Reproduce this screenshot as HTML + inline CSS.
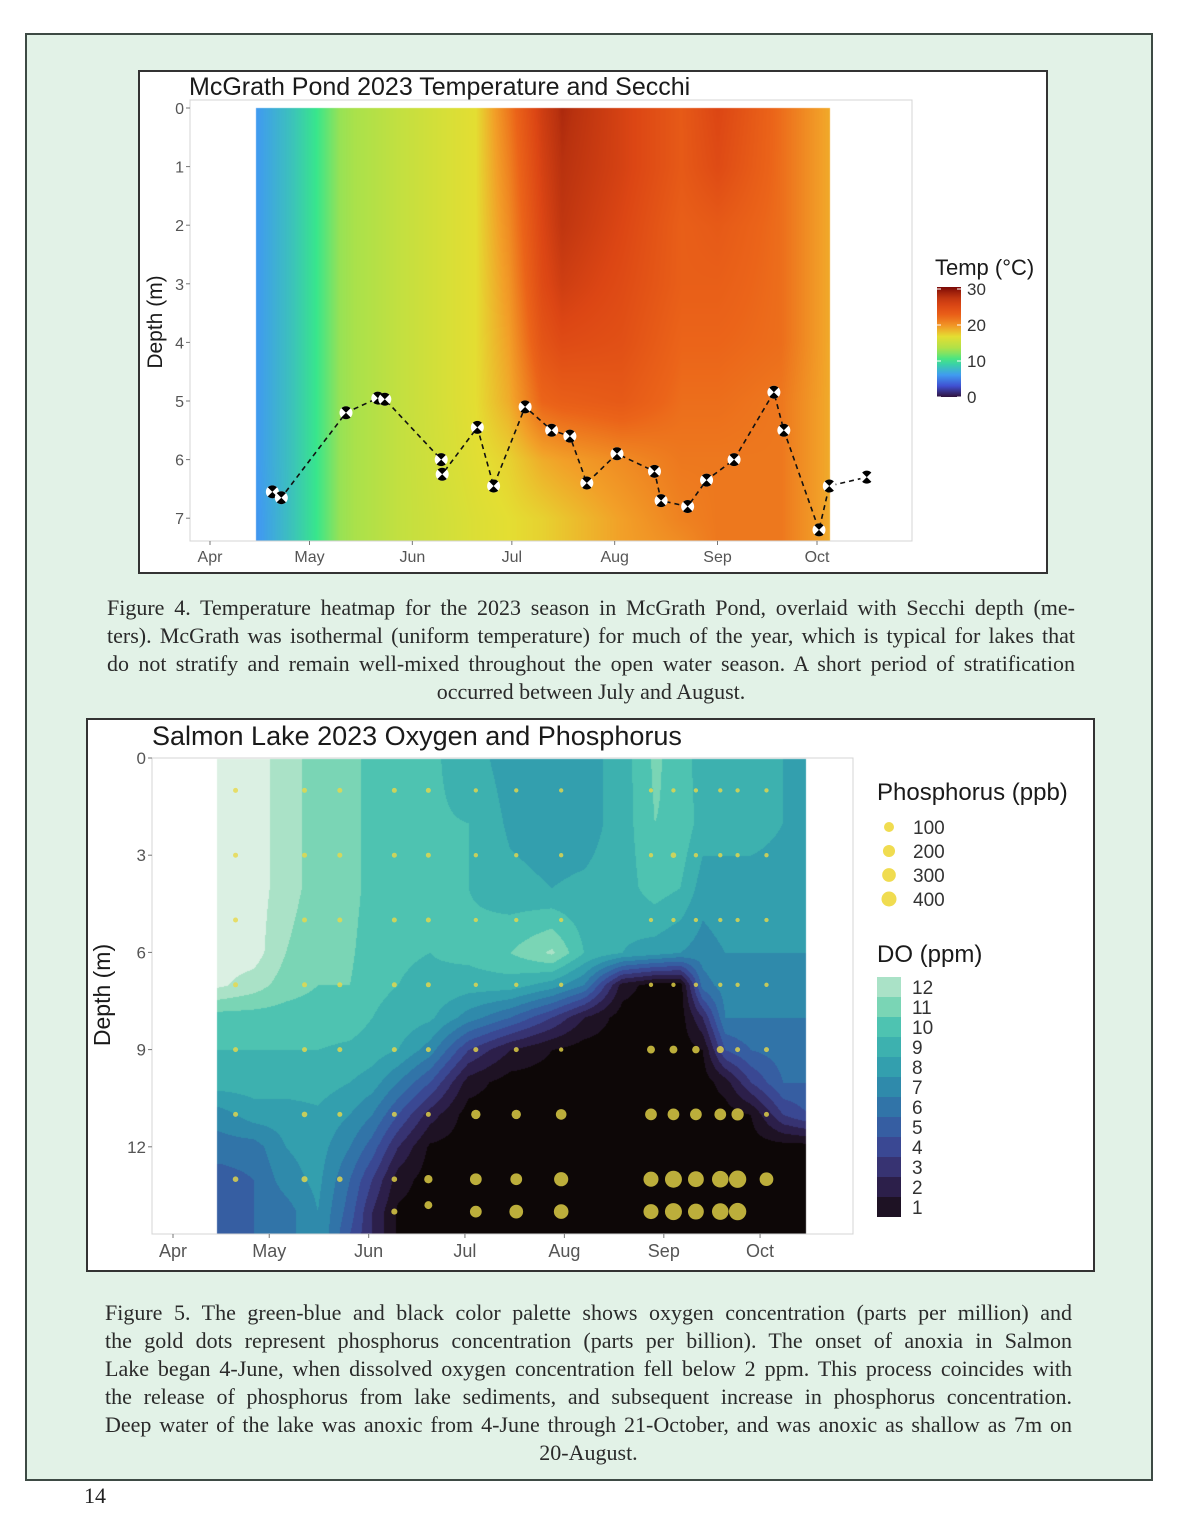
<!DOCTYPE html>
<html><head><meta charset="utf-8"><style>
body{margin:0;background:#fff;width:1185px;height:1536px;position:relative;overflow:hidden;font-family:"Liberation Sans",sans-serif}
.abs{position:absolute}
.cap{position:absolute;font-family:"Liberation Serif",serif;font-size:22px;color:#2a2a2a;line-height:28px}
.cap div{text-align:justify;text-align-last:justify;white-space:nowrap}
.cap div.c{text-align:center;text-align-last:center}
</style></head><body>
<div class="abs" style="left:25px;top:33px;width:1124px;height:1444px;background:#e2f2e7;border:2px solid #3d4a44"></div>
<div class="abs" style="left:138px;top:70px;width:906px;height:500px;background:#fff;border:2px solid #333"></div>
<div class="abs" style="left:86px;top:718px;width:1005px;height:550px;background:#fff;border:2px solid #333"></div>
<canvas id="tc" class="abs" width="1185" height="1536" style="left:0;top:0"></canvas>
<svg id="s" class="abs" width="1185" height="1536" style="left:0;top:0"></svg>
<div class="cap" style="left:107px;top:594px;width:968px">
<div>Figure 4. Temperature heatmap for the 2023 season in McGrath Pond, overlaid with Secchi depth (me-</div>
<div>ters). McGrath was isothermal (uniform temperature) for much of the year, which is typical for lakes that</div>
<div>do not stratify and remain well-mixed throughout the open water season. A short period of stratification</div>
<div class="c">occurred between July and August.</div>
</div>
<div class="cap" style="left:105px;top:1299px;width:967px">
<div>Figure 5. The green-blue and black color palette shows oxygen concentration (parts per million) and</div>
<div>the gold dots represent phosphorus concentration (parts per billion). The onset of anoxia in Salmon</div>
<div>Lake began 4-June, when dissolved oxygen concentration fell below 2 ppm. This process coincides with</div>
<div>the release of phosphorus from lake sediments, and subsequent increase in phosphorus concentration.</div>
<div>Deep water of the lake was anoxic from 4-June through 21-October, and was anoxic as shallow as 7m on</div>
<div class="c">20-August.</div>
</div>
<div class="abs" style="left:84px;top:1483px;font-family:'Liberation Serif',serif;font-size:22px;color:#222">14</div>
<script>
// ---------- Figure 4 data ----------
const months=["Apr","May","Jun","Jul","Aug","Sep","Oct"];
const monthDays=[0,30,61,91,122,153,183];
const tDepthTicks=[0,1,2,3,4,5,6,7];
const tDates=[14,24,32,39,57,80,90,100,106,124,142,153,172,187];
const tDepths=[0,1,2,3,4,5,6,7,7.4];
const tTemp=[
[6,6,6,6,6,6,6,5.8,5.8],
[8,8,8,8,8,8,8,8,8],
[10,10,10,10,10,10,10,10,10],
[12.5,12.5,12.5,12.5,12.5,12.5,12.5,12.5,12.5],
[14.5,14.5,14.5,14.5,14.5,14.5,14.5,14.5,14.5],
[16.5,16.5,16.5,16.5,16.5,16.5,16.3,16,16],
[21,20.5,20,19.5,19,18.5,17,16.5,16.5],
[26,25.5,25,24.5,23.5,22,18.5,17,17],
[28,27.5,27,26,24.5,22.5,19,17.5,17.5],
[25.5,25.5,25,24.5,24,23,20,19,19],
[23,23,22.5,22.5,22,21.5,21,20.5,20],
[25,24.5,23,22.5,22,21.5,21,21,21],
[21.5,21.5,21.5,21.5,21.5,21,21,21,21],
[18.5,18.5,18.5,18.5,18.5,18.5,18.5,18.5,18.5]];
const secchiDays=[18.8,21.5,41,50.6,52.7,69.7,70,80.6,85.5,95,103,108.5,113.6,122.7,134,136,144,149.7,158,170,173,183.6,186.7,198];
const secchiDepth=[6.55,6.65,5.2,4.95,4.97,6.0,6.25,5.45,6.45,5.1,5.5,5.6,6.4,5.9,6.2,6.7,6.8,6.35,6.0,4.85,5.5,7.2,6.45,6.3];
const tempLegend=[0,10,20,30];
// ---------- Figure 5 data ----------
const oDepthTicks=[0,3,6,9,12];
const oDates=[14,25,35,45,55,62,70,80,92,105,118,128,140,150,158,165,172,180,190,198];
const oDepths=[0,2,4,6,7,8,9,10,11,12,13,14,14.7];
const oDO=[
[13.5,13.5,13.5,13.5,13.2,10.5,10,9.5,7.5,6.5,5.5,5,5],
[13.5,13.5,13.5,13.5,12.5,10.5,10,9.5,8.5,6.5,6,6,6],
[12.5,12.5,12.5,12,11.5,10.5,10,9.5,8.5,8,7.5,6.5,6.5],
[11.5,11.5,11.5,11.2,11,10.5,10,9.5,8.8,8.5,8.3,8,8],
[11.5,11.5,11.5,11.2,11,10.5,9.8,9,8,7,6,5.5,5],
[10.5,10.5,10.5,10.3,10.2,10,9.5,8.5,7,5.5,4,3,3],
[10.3,10.2,10.2,10.1,10,9.7,9,7,5,3,1.5,0.8,0.8],
[10.2,10.1,10.1,10,9.8,9.2,7.5,5,2.5,0.8,0.5,0.5,0.5],
[9.5,10,10,10.3,9.5,7.5,4,1.5,0.5,0.5,0.5,0.5,0.5],
[8.5,8.8,9.3,11,9.5,6,2,0.5,0.5,0.5,0.5,0.5,0.5],
[8.5,8.5,9,12.2,8.5,4,1,0.5,0.5,0.5,0.5,0.5,0.5],
[8.5,8.5,9.2,10,7,2,0.5,0.5,0.5,0.5,0.5,0.5,0.5],
[9.5,9.5,9.5,9,1.5,0.5,0.5,0.5,0.5,0.5,0.5,0.5,0.5],
[11.2,11,10.5,8.5,0.5,0.5,0.5,0.5,0.5,0.5,0.5,0.5,0.5],
[10.5,10.8,10,8,0.5,0.5,0.5,0.5,0.5,0.5,0.5,0.5,0.5],
[9.5,9.5,8.5,7.5,6.5,3,1,0.5,0.5,0.5,0.5,0.5,0.5],
[9,9.2,8.8,8,7.5,7,5,1.5,0.5,0.5,0.5,0.5,0.5],
[10,9.5,8.5,8,7.5,7,6,4,1,0.5,0.5,0.5,0.5],
[9,9,8.5,8,7.5,7,6.5,6,4,0.5,0.5,0.5,0.5],
[8.5,8.5,8,8,7.5,7,6.5,6,5,0.5,0.5,0.5,0.5]];
const pDates=[19.5,41,52,69,79.6,94.4,107,121,149,156,163,170.6,176,185];
const pDepths=[1,3,5,7,9,11,13,14];
const pVals=[
[20,20,20,20,20,20,25,null],
[20,20,20,20,20,25,30,null],
[20,20,20,20,20,20,25,null],
[20,20,20,20,20,20,25,30],
[20,20,20,20,20,20,55,null],
[15,15,15,15,20,70,110,110],
[15,15,15,15,20,70,110,150],
[15,15,15,15,15,90,160,170],
[15,15,15,15,50,110,180,180],
[15,25,15,15,50,110,230,230],
[15,15,15,15,45,110,200,200],
[15,15,15,15,40,110,220,220],
[15,15,15,15,20,120,240,240],
[15,15,15,15,20,20,150,null]];
const pExtraDay=[79.6], pExtraDepth=[13.8], pExtraVal=[50];
const pLegend=[100,200,300,400];
const doLegend=[1,2,3,4,5,6,7,8,9,10,11,12];

const NS="http://www.w3.org/2000/svg";
const svg=document.getElementById('s');
function el(t,a,txt){const e=document.createElementNS(NS,t);for(const k in a)e.setAttribute(k,a[k]);if(txt!==undefined)e.textContent=txt;svg.appendChild(e);return e;}
function interp(dates,depths,M,d,z){
  let i=0;while(i<dates.length-2&&d>dates[i+1])i++;
  let j=0;while(j<depths.length-2&&z>depths[j+1])j++;
  let u=(d-dates[i])/(dates[i+1]-dates[i]);u=Math.max(0,Math.min(1,u));
  let v=(z-depths[j])/(depths[j+1]-depths[j]);v=Math.max(0,Math.min(1,v));
  return (1-u)*(1-v)*M[i][j]+u*(1-v)*M[i+1][j]+(1-u)*v*M[i][j+1]+u*v*M[i+1][j+1];
}
const tx=d=>210+d*3.317, ty=z=>108+z*58.6;
const ox=d=>173+d*3.208, oy=z=>758+z*32.4;
const tStops=[[0,[48,18,59]],[3,[64,80,210]],[6,[64,155,240]],[10,[56,230,140]],[13,[170,225,75]],[16.5,[228,222,50]],[19,[242,160,40]],[22,[235,100,25]],[25,[220,70,20]],[27.5,[185,50,15]],[30,[122,8,5]]];
function tColor(t){if(t<=tStops[0][0])return tStops[0][1];for(let k=0;k<tStops.length-1;k++){const a=tStops[k],b=tStops[k+1];if(t<=b[0]){const f=(t-a[0])/(b[0]-a[0]);return a[1].map((c,i)=>Math.round(c+f*(b[1][i]-c)));}}return tStops[tStops.length-1][1];}
const doCols=["#0d0707","#0d0707","#1e1224","#2c1f4a","#373372","#3a4893","#365ea2","#3174a8","#2f8aab","#339fae","#3db1af","#4ec3b1","#7ad5b5","#aae2c7","#dbf0e3"];
function doColor(v){return doCols[Math.max(0,Math.min(14,Math.floor(v)+1))];}
function hex(h){return [parseInt(h.substr(1,2),16),parseInt(h.substr(3,2),16),parseInt(h.substr(5,2),16)];}

const cv=document.getElementById('tc'),ctx=cv.getContext('2d');
(function(){
  const x0=256,x1=830,y0=108,y1=541;
  const img=ctx.createImageData(x1-x0,y1-y0);
  for(let y=y0;y<y1;y++)for(let x=x0;x<x1;x++){
    const d=(x-210)/3.317,z=(y-108)/58.6;
    const c=tColor(interp(tDates,tDepths,tTemp,d,z));
    const p=((y-y0)*(x1-x0)+(x-x0))*4;img.data[p]=c[0];img.data[p+1]=c[1];img.data[p+2]=c[2];img.data[p+3]=255;}
  ctx.putImageData(img,x0,y0);
  const X0=217,X1=806,Y0=759,Y1=1234;
  const im2=ctx.createImageData(X1-X0,Y1-Y0);
  for(let y=Y0;y<Y1;y++)for(let x=X0;x<X1;x++){
    const d=(x-173)/3.208,z=(y-758)/32.4;
    const c=hex(doColor(interp(oDates,oDepths,oDO,d,z)));
    const p=((y-Y0)*(X1-X0)+(x-X0))*4;im2.data[p]=c[0];im2.data[p+1]=c[1];im2.data[p+2]=c[2];im2.data[p+3]=255;}
  ctx.putImageData(im2,X0,Y0);
})();

let t=el('text',{x:189,y:95,'font-size':25,fill:'#1a1a1a'},'McGrath Pond 2023 Temperature and Secchi');

el('rect',{x:190,y:100,width:722,height:441,fill:'none',stroke:'#d4d4d4','stroke-width':1});
tDepthTicks.forEach(v=>{const y=ty(v);
  el('line',{x1:186,x2:190,y1:y,y2:y,stroke:'#777'});
  const l=el('text',{x:184,y:y+6,'font-size':16,fill:'#555','text-anchor':'end'},String(v));
  });
months.forEach((m,i)=>{const x=tx(monthDays[i]);
  el('line',{x1:x,x2:x,y1:541,y2:545,stroke:'#777'});
  const l=el('text',{x:x,y:562,'font-size':16,fill:'#555','text-anchor':'middle'},m);
  });
t=el('text',{x:0,y:0,'font-size':21,fill:'#1a1a1a','text-anchor':'middle',transform:'translate(162,322) rotate(-90)'},'Depth (m)');

let pts=secchiDays.map((d,i)=>tx(d)+','+ty(secchiDepth[i])).join(' ');
t=el('polyline',{points:pts,fill:'none',stroke:'#111','stroke-width':1.6,'stroke-dasharray':'5,4'});

secchiDays.forEach((d,i)=>{const cx=tx(d),cy=ty(secchiDepth[i]),r=6.5;
  const g=el('g',{transform:`translate(${cx},${cy}) rotate(45)`});
  
  const c1=document.createElementNS(NS,'circle');c1.setAttribute('r',r);c1.setAttribute('fill','#fff');g.appendChild(c1);
  const p1=document.createElementNS(NS,'path');p1.setAttribute('d',`M0,0 L${r},0 A${r},${r} 0 0 1 0,${r} Z M0,0 L${-r},0 A${r},${r} 0 0 1 0,${-r} Z`);p1.setAttribute('fill','#000');g.appendChild(p1);});
t=el('text',{x:935,y:275,'font-size':22,fill:'#1a1a1a'},'Temp (°C)');

const defs=el('defs',{});
const lg=document.createElementNS(NS,'linearGradient');lg.setAttribute('id','tg');lg.setAttribute('x1','0');lg.setAttribute('y1','1');lg.setAttribute('x2','0');lg.setAttribute('y2','0');defs.appendChild(lg);
for(let k=0;k<=30;k+=1.5){const s=document.createElementNS(NS,'stop');s.setAttribute('offset',k/30);s.setAttribute('stop-color','rgb('+tColor(k).join(',')+')');lg.appendChild(s);}
t=el('rect',{x:937,y:287,width:24,height:110,fill:'url(#tg)'});

tempLegend.forEach(v=>{const y=397-v/30*108;
  el('line',{x1:937,x2:941,y1:y,y2:y,stroke:'#fff'});el('line',{x1:957,x2:961,y1:y,y2:y,stroke:'#fff'});
  const l=el('text',{x:967,y:y+6,'font-size':17,fill:'#333'},String(v));
  });

t=el('text',{x:152,y:745,'font-size':27,fill:'#1a1a1a'},'Salmon Lake 2023 Oxygen and Phosphorus');

el('rect',{x:152,y:758,width:701,height:476,fill:'none',stroke:'#d4d4d4','stroke-width':1});
oDepthTicks.forEach(v=>{const y=oy(v);
  el('line',{x1:148,x2:152,y1:y,y2:y,stroke:'#777'});
  const l=el('text',{x:146,y:y+6,'font-size':17,fill:'#555','text-anchor':'end'},String(v));
  });
months.forEach((m,i)=>{const x=ox(monthDays[i]);
  el('line',{x1:x,x2:x,y1:1234,y2:1238,stroke:'#777'});
  const l=el('text',{x:x,y:1257,'font-size':18,fill:'#555','text-anchor':'middle'},m);
  });
t=el('text',{x:0,y:0,'font-size':23,fill:'#1a1a1a','text-anchor':'middle',transform:'translate(110,995) rotate(-90)'},'Depth (m)');

const pr=v=>Math.max(2,0.56*Math.sqrt(v));
pDates.forEach((d,i)=>pVals[i].forEach((v,j)=>{if(v===null)return;
  const c=el('circle',{cx:ox(d),cy:oy(pDepths[j]),r:pr(v),fill:'#e8d848','fill-opacity':0.8});
  }));
pExtraDay.forEach((d,i)=>{const c=el('circle',{cx:ox(d),cy:oy(pExtraDepth[i]),r:pr(pExtraVal[i]),fill:'#e8d848','fill-opacity':0.8});
  });
t=el('text',{x:877,y:800,'font-size':24,fill:'#1a1a1a'},'Phosphorus (ppb)');

pLegend.forEach((v,i)=>{const y=827+i*24;
  const c=el('circle',{cx:889,cy:y,r:2.5+0.25*Math.sqrt(v),fill:'#f0dc50'});
  
  const l=el('text',{x:913,y:y+7,'font-size':19,fill:'#333'},String(v));
  });
t=el('text',{x:877,y:962,'font-size':24,fill:'#1a1a1a'},'DO (ppm)');

doLegend.forEach((v,i)=>{const y=1197-i*20;
  const r=el('rect',{x:877,y:y,width:24,height:20,fill:doColor(v+0.5)});
  
  const l=el('text',{x:912,y:y+17,'font-size':19,fill:'#333'},String(v));
  });
</script>
</body></html>
